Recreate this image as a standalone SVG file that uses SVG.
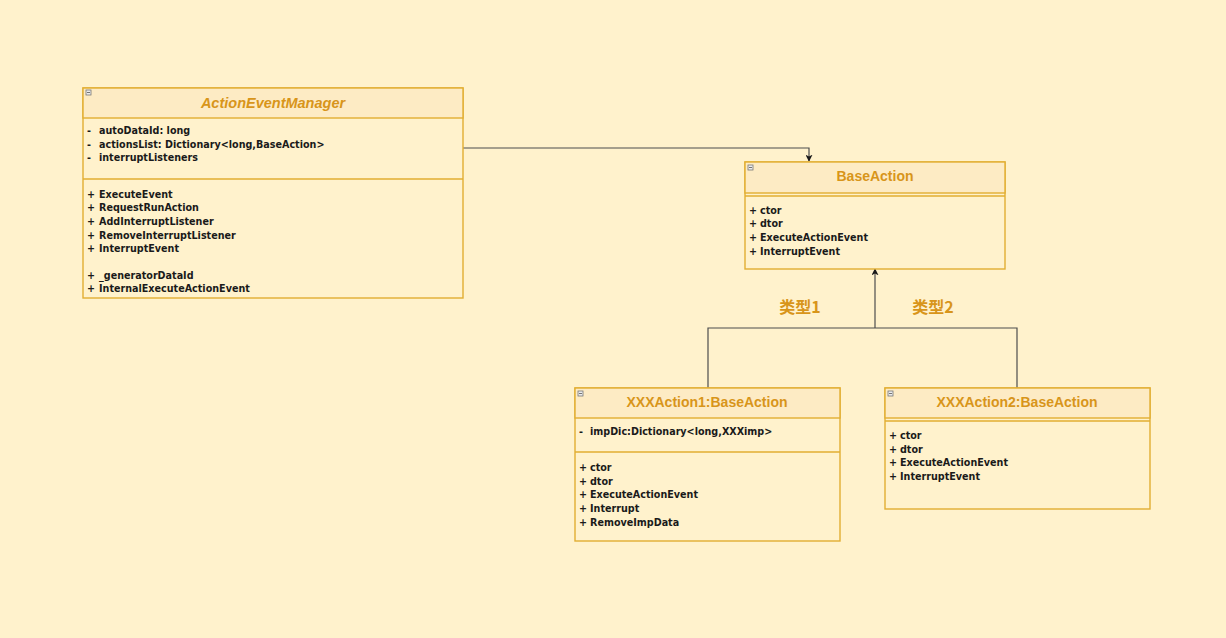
<svg xmlns="http://www.w3.org/2000/svg" width="1226" height="638" viewBox="0 0 1226 638">
<defs>
<style>
.box{fill:#FFF2CC;stroke:#E2AE32;stroke-width:1.4}
.hdr{fill:#FDEBC4;stroke:#E2AE32;stroke-width:1.4}
.div{stroke:#E2AE32;stroke-width:1.4;fill:none}
.title{font-family:"Liberation Sans",Arial,sans-serif;font-weight:bold;font-style:italic;font-size:14.5px;fill:#D8951A;text-anchor:middle}
.title2{font-family:"Liberation Sans",Arial,sans-serif;font-weight:bold;font-size:14px;fill:#D8951A;text-anchor:middle}
.m{font-family:"DejaVu Sans",Verdana,sans-serif;font-weight:bold;font-size:9.6px;fill:#1a1a1a}
.lbl{font-family:"Noto Sans CJK SC","Liberation Sans",sans-serif;font-weight:bold;font-size:16px;fill:#D8951A;text-anchor:middle}
.edge{stroke:#4D4D4D;stroke-width:1.2;fill:none}
.ico{fill:#ECECEC;stroke:#777;stroke-width:0.8}
</style>
<marker id="arr" viewBox="0 0 10 10" refX="9" refY="5" markerWidth="7" markerHeight="7" orient="auto-start-reverse" markerUnits="userSpaceOnUse">
<path d="M0,0 L10,5 L0,10 L2.5,5 z" fill="#1a1a1a"/>
</marker>
</defs>
<rect width="1226" height="638" fill="#FFF2CC"/>

<g id="connectors">
<path class="edge" d="M463,148 H809 V161" marker-end="url(#arr)"/>
<path class="edge" d="M708,388 V328 H1017 V388"/>
<path class="edge" d="M875,328 V269" marker-end="url(#arr)"/>
</g>

<g id="label1"><text class="lbl" x="800" y="313">类型1</text></g>
<g id="label2"><text class="lbl" x="933" y="313">类型2</text></g>

<g id="ActionEventManager">
<rect class="box" x="83" y="88" width="380" height="210"/>
<rect class="hdr" x="83" y="88" width="380" height="30"/>
<line class="div" x1="83" y1="179" x2="463" y2="179"/>
<rect class="ico" x="86" y="90" width="5" height="5"/><line x1="87" y1="92.5" x2="90" y2="92.5" stroke="#555" stroke-width="0.8"/>
<text class="title" x="273" y="108">ActionEventManager</text>
<text class="m" x="87" y="134">-<tspan x="99">autoDataId: long</tspan></text>
<text class="m" x="87" y="148">-<tspan x="99">actionsList: Dictionary&lt;long,BaseAction&gt;</tspan></text>
<text class="m" x="87" y="161">-<tspan x="99">interruptListeners</tspan></text>
<text class="m" x="87" y="198">+<tspan x="99">ExecuteEvent</tspan></text>
<text class="m" x="87" y="211">+<tspan x="99">RequestRunAction</tspan></text>
<text class="m" x="87" y="225">+<tspan x="99">AddInterruptListener</tspan></text>
<text class="m" x="87" y="239">+<tspan x="99">RemoveInterruptListener</tspan></text>
<text class="m" x="87" y="252">+<tspan x="99">InterruptEvent</tspan></text>
<text class="m" x="87" y="279">+<tspan x="99">_generatorDataId</tspan></text>
<text class="m" x="87" y="292">+<tspan x="99">InternalExecuteActionEvent</tspan></text>
</g>

<g id="BaseAction">
<rect class="box" x="745" y="162" width="260" height="107"/>
<rect class="hdr" x="745" y="162" width="260" height="31"/>
<line class="div" x1="745" y1="196" x2="1005" y2="196"/>
<rect class="ico" x="748" y="165" width="5" height="5"/><line x1="749" y1="167.5" x2="752" y2="167.5" stroke="#555" stroke-width="0.8"/>
<text class="title2" x="875" y="181">BaseAction</text>
<text class="m" x="749" y="214">+<tspan x="760">ctor</tspan></text>
<text class="m" x="749" y="227">+<tspan x="760">dtor</tspan></text>
<text class="m" x="749" y="241">+<tspan x="760">ExecuteActionEvent</tspan></text>
<text class="m" x="749" y="255">+<tspan x="760">InterruptEvent</tspan></text>
</g>

<g id="XXXAction1">
<rect class="box" x="575" y="388" width="265" height="153"/>
<rect class="hdr" x="575" y="388" width="265" height="30"/>
<line class="div" x1="575" y1="452" x2="840" y2="452"/>
<rect class="ico" x="578" y="391" width="5" height="5"/><line x1="579" y1="393.5" x2="582" y2="393.5" stroke="#555" stroke-width="0.8"/>
<text class="title2" x="707" y="407">XXXAction1:BaseAction</text>
<text class="m" x="579" y="435">-<tspan x="590">impDic:Dictionary&lt;long,XXXimp&gt;</tspan></text>
<text class="m" x="579" y="471">+<tspan x="590">ctor</tspan></text>
<text class="m" x="579" y="485">+<tspan x="590">dtor</tspan></text>
<text class="m" x="579" y="498">+<tspan x="590">ExecuteActionEvent</tspan></text>
<text class="m" x="579" y="512">+<tspan x="590">Interrupt</tspan></text>
<text class="m" x="579" y="526">+<tspan x="590">RemoveImpData</tspan></text>
</g>

<g id="XXXAction2">
<rect class="box" x="885" y="388" width="265" height="121"/>
<rect class="hdr" x="885" y="388" width="265" height="30"/>
<line class="div" x1="885" y1="421" x2="1150" y2="421"/>
<rect class="ico" x="888" y="391" width="5" height="5"/><line x1="889" y1="393.5" x2="892" y2="393.5" stroke="#555" stroke-width="0.8"/>
<text class="title2" x="1017" y="407">XXXAction2:BaseAction</text>
<text class="m" x="889" y="439">+<tspan x="900">ctor</tspan></text>
<text class="m" x="889" y="453">+<tspan x="900">dtor</tspan></text>
<text class="m" x="889" y="466">+<tspan x="900">ExecuteActionEvent</tspan></text>
<text class="m" x="889" y="480">+<tspan x="900">InterruptEvent</tspan></text>
</g>
</svg>
